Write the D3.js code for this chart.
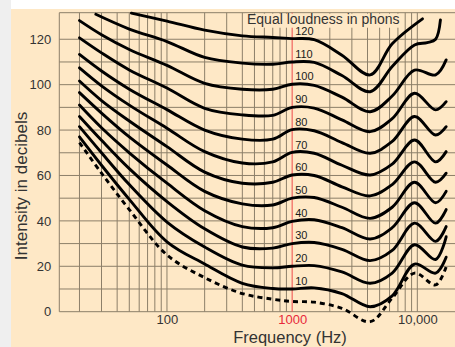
<!DOCTYPE html>
<html>
<head>
<meta charset="utf-8">
<script src="https://cdnjs.cloudflare.com/ajax/libs/d3/7.8.5/d3.min.js"></script>
<style>
  body { margin: 0; background: #fff; }
  svg { display: block; font-family: "Liberation Sans", Arial, sans-serif; }
</style>
</head>
<body>
<div id="chart"></div>
<script>
// frequencies (Hz) at which the curves were read
const freqs = [20, 30, 50, 100, 200, 400, 700, 1000, 1500, 2500, 4200, 6300, 9500, 14000, 17000];

// dB values, one array per curve
const threshold = [74.5, 61, 45, 25, 15, 8, 5.5, 4.5, 4.2, 1.5, -4.4, 6, 17, 11.8, 19.8];
const phon10  = [77, 64.5, 49.5, 30.8, 21, 12.5, 10.2, 10, 10.5, 8, 2.2, 7, 21, 17, 24];
const phon20  = [81.5, 70, 56, 39.5, 28.5, 20.5, 19.3, 20, 20.3, 17.5, 12.5, 17, 29.5, 23, 33];
const phon30  = [86, 75.5, 63, 48.5, 36.5, 28.5, 28, 30, 30.5, 27.5, 22.5, 27, 39, 31, 37.5];
const phon40  = [91, 81, 70, 56.6, 44.5, 37.5, 37, 39.8, 40.5, 37, 32, 37, 48, 39, 45];
const phon50  = [96.5, 87.5, 77, 64.6, 53, 47.5, 47, 50, 50.3, 46, 41.1, 46, 57, 48, 53];
const phon60  = [101.6, 93, 84, 72.7, 61.5, 56.6, 57, 60.2, 60, 55, 51, 56, 66, 57, 61];
const phon70  = [107.4, 99.5, 91, 80.8, 70.5, 65.5, 66, 70.2, 69.8, 64.5, 60.2, 65, 75.6, 66, 70.5];
const phon80  = [113.3, 106, 98, 89, 80, 76, 76, 80.2, 79.7, 74.5, 69.8, 75, 86, 77.8, 81.5];
const phon90  = [120.6, 114, 106.5, 98.5, 89.6, 86.7, 86.5, 90, 89.7, 84.5, 79.3, 85, 96.2, 88.9, 92.5];
const phon100 = [128.2, 122, 115.5, 108.5, 100.6, 98, 98, 100.2, 99.7, 94.5, 88.1, 95, 106.4, 104.3, 110.9];

// the two top curves start and stop at other frequencies
const freqs110 = [27, 50, 100, 200, 400, 700, 1000, 1500, 2500, 4200, 6300, 9500, 12000, 14000, 15300];
const phon110  = [131, 124.5, 119, 112, 109.5, 109, 110, 109.8, 104, 96.9, 108, 117.5, 118.5, 120, 128.5];
const freqs120 = [52, 100, 200, 400, 700, 1000, 1500, 2500, 4200, 6300, 11000];
const phon120  = [131.5, 128, 124, 121.5, 120.8, 120.3, 119.8, 113, 104.3, 118, 129];

const phonLabels = ["10", "20", "30", "40", "50", "60", "70", "80", "90", "100", "110", "120"];
const yTicks = [0, 20, 40, 60, 80, 100, 120];
const xTicks = [100, 1000, 10000];
const xTickLabels = ["100", "1000", "10,000"];

const width = 455, height = 347;
const plotLeft = 59.3, plotRight = 455, plotTop = 12.7, plotBottom = 311.7;

const x = d3.scaleLog().domain([13.8, 20000]).range([plotLeft, plotRight]);
const y = d3.scaleLinear().domain([0, 131.7]).range([plotBottom, plotTop]);

const svg = d3.select("#chart").append("svg")
  .attr("width", width)
  .attr("height", height);

// backgrounds
svg.append("rect").attr("x", 0).attr("y", 0).attr("width", width).attr("height", height).attr("fill", "#ffffff");
svg.append("rect").attr("x", 0).attr("y", 0).attr("width", 11).attr("height", height).attr("fill", "#efefef");
svg.append("rect").attr("x", 11).attr("y", 9).attr("width", width - 11).attr("height", height - 9).attr("fill", "#fee8c6");

const gridColor = "#8c7f69";

// vertical grid lines
const vLines = [];
[10, 100, 1000].forEach(d => { for (let k = (d === 10 ? 2 : 1); k <= 9; k++) vLines.push(k * d); });
vLines.push(10000);

svg.append("g").selectAll("line")
  .data(vLines.filter(d => d !== 1000))
  .enter().append("line")
  .attr("x1", d => x(d)).attr("x2", d => x(d))
  .attr("y1", plotTop).attr("y2", plotBottom)
  .attr("stroke", gridColor).attr("stroke-width", 1);

// horizontal grid lines
svg.append("g").selectAll("line")
  .data(d3.range(0, 130, 10))
  .enter().append("line")
  .attr("x1", plotLeft).attr("x2", plotRight)
  .attr("y1", d => y(d)).attr("y2", d => y(d))
  .attr("stroke", gridColor).attr("stroke-width", 1);

// frame
svg.append("line").attr("x1", plotLeft).attr("x2", plotRight).attr("y1", plotTop).attr("y2", plotTop)
  .attr("stroke", gridColor).attr("stroke-width", 1);
svg.append("line").attr("x1", plotLeft).attr("x2", plotLeft).attr("y1", plotTop).attr("y2", plotBottom)
  .attr("stroke", gridColor).attr("stroke-width", 1);

// red 1000 Hz line
svg.append("line")
  .attr("x1", x(1000)).attr("x2", x(1000))
  .attr("y1", plotTop).attr("y2", plotBottom)
  .attr("stroke", "#ee4a4a").attr("stroke-width", 1);

// title with a plain box behind it
svg.append("rect").attr("x", 245).attr("y", plotTop + 1).attr("width", 154).attr("height", 14).attr("fill", "#fee8c6");
svg.append("text")
  .attr("x", 247).attr("y", 23.5)
  .attr("font-size", 14).attr("fill", "#333")
  .text("Equal loudness in phons");

// curves
const line = d3.line()
  .defined(d => d[1] != null)
  .x(d => x(d[0]))
  .y(d => y(d[1]))
  .curve(d3.curveCatmullRom.alpha(0.5));

const solid = [phon10, phon20, phon30, phon40, phon50, phon60, phon70, phon80, phon90, phon100]
  .map(vals => freqs.map((f, i) => [f, vals[i]]));
solid.push(freqs110.map((f, i) => [f, phon110[i]]));
solid.push(freqs120.map((f, i) => [f, phon120[i]]));

svg.append("g").selectAll("path")
  .data(solid)
  .enter().append("path")
  .attr("d", line)
  .attr("fill", "none")
  .attr("stroke", "#000")
  .attr("stroke-width", 2.9)
  .attr("stroke-linecap", "round");

svg.append("path")
  .datum(freqs.map((f, i) => [f, threshold[i]]))
  .attr("d", line)
  .attr("fill", "none")
  .attr("stroke", "#000")
  .attr("stroke-width", 2.9)
  .attr("stroke-dasharray", "5,4");

// phon labels next to the 1000 Hz line
svg.append("g").selectAll("text")
  .data(phonLabels)
  .enter().append("text")
  .attr("x", x(1000) + 3)
  .attr("y", d => y(+d) - 4.2)
  .attr("font-size", 11)
  .attr("fill", "#1a1a1a")
  .text(d => d);

// y axis
const yAxis = svg.append("g")
  .attr("transform", "translate(" + plotLeft + ",0)")
  .call(d3.axisLeft(y).tickValues(yTicks).tickSize(0).tickPadding(8));
yAxis.select(".domain").remove();
yAxis.selectAll("text").attr("font-size", 13).attr("fill", "#333").attr("font-family", "Liberation Sans, Arial, sans-serif");

// x axis
const xAxis = svg.append("g")
  .attr("transform", "translate(0," + plotBottom + ")")
  .call(d3.axisBottom(x).tickValues(xTicks).tickSize(0).tickPadding(3.5)
    .tickFormat((d, i) => xTickLabels[i]));
xAxis.select(".domain").remove();
xAxis.selectAll("text").attr("font-size", 13).attr("font-family", "Liberation Sans, Arial, sans-serif")
  .attr("fill", d => d === 1000 ? "#e8283a" : "#333");

// axis titles
svg.append("text")
  .attr("x", 290).attr("y", 342.5)
  .attr("text-anchor", "middle")
  .attr("font-size", 16.5).attr("fill", "#333")
  .text("Frequency (Hz)");

svg.append("text")
  .attr("transform", "translate(27,186) rotate(-90)")
  .attr("text-anchor", "middle")
  .attr("font-size", 17).attr("fill", "#333")
  .text("Intensity in decibels");
</script>
</body>
</html>
